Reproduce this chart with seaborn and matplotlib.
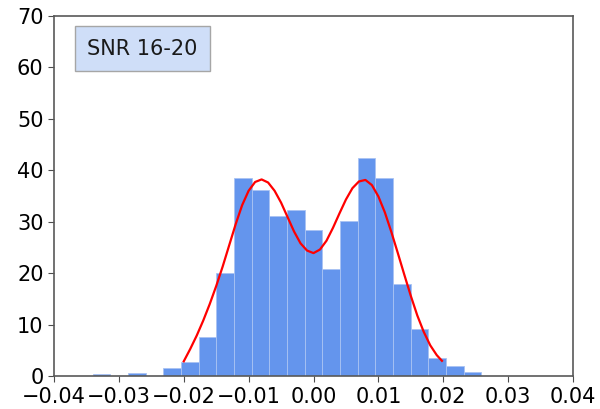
import numpy as np
import pandas as pd
import matplotlib
matplotlib.use("Agg")
import matplotlib.pyplot as plt
import seaborn as sns

# Histogram of residuals (density), 22 equal-width bins
bin_start = -0.03405
bin_stop = 0.02585
bin_heights = [0.37, 0.0, 0.73, 0.0, 1.7, 2.8, 7.6, 20.1, 38.5, 36.2, 31.1,
               32.2, 28.4, 20.9, 30.2, 42.3, 38.5, 18.0, 9.2, 3.6, 1.9, 0.8]

# Fitted density curve
curve_x = [-0.020, -0.019, -0.018, -0.017, -0.016, -0.015, -0.014, -0.013,
           -0.012, -0.011, -0.010, -0.009, -0.008, -0.007, -0.006, -0.005,
           -0.004, -0.003, -0.002, -0.001, 0.000, 0.001, 0.002, 0.003,
           0.004, 0.005, 0.006, 0.007, 0.008, 0.009, 0.010, 0.011, 0.012,
           0.013, 0.014, 0.015, 0.016, 0.017, 0.018, 0.019, 0.0198]
curve_y = [2.9, 5.3, 7.9, 10.8, 14.0, 17.5, 21.3, 25.4, 29.5, 33.2, 36.0,
           37.7, 38.2, 37.6, 36.0, 33.7, 30.9, 28.1, 25.8, 24.4, 23.9, 24.6,
           26.3, 28.8, 31.6, 34.3, 36.5, 37.8, 38.1, 37.1, 34.9, 31.8, 28.0,
           23.9, 19.7, 15.6, 11.8, 8.6, 6.0, 4.1, 3.0]

label = "SNR 16-20"
x_ticks = [-0.04, -0.03, -0.02, -0.01, 0.00, 0.01, 0.02, 0.03, 0.04]
y_ticks = [0, 10, 20, 30, 40, 50, 60, 70]

n_bins = len(bin_heights)
edges = np.linspace(bin_start, bin_stop, n_bins + 1)
hist_df = pd.DataFrame({
    "center": (edges[:-1] + edges[1:]) / 2,
    "height": bin_heights,
})
curve_df = pd.DataFrame({"x": curve_x, "y": curve_y})

fig, ax = plt.subplots(figsize=(6.0, 4.09), dpi=100)
fig.subplots_adjust(left=0.09, right=0.955, top=0.962, bottom=0.08)

sns.histplot(data=hist_df, x="center", weights="height", bins=n_bins,
             binrange=(bin_start, bin_stop), stat="count",
             color="cornflowerblue", alpha=1.0,
             edgecolor="#a9c3f3", linewidth=0.6, ax=ax)
sns.lineplot(data=curve_df, x="x", y="y", color="red", linewidth=1.6,
             ax=ax, sort=False)

ax.set_xlim(-0.04, 0.04)
ax.set_ylim(0, 70)
ax.set_xticks(x_ticks)
ax.set_xticklabels([f"{t:.2f}".replace("-", "\u2212") for t in x_ticks])
ax.set_yticks(y_ticks)
ax.tick_params(labelsize=15, length=4, color="0.3")
ax.set_xlabel("")
ax.set_ylabel("")
for s in ax.spines.values():
    s.set_color("0.35")
    s.set_linewidth(1.2)

ax.text(0.0645, 0.908, label, transform=ax.transAxes, fontsize=15,
        va="center", ha="left", color="0.1",
        bbox=dict(boxstyle="square,pad=0.6", facecolor="#cfdef8",
                  edgecolor="0.65", linewidth=1.0))

fig.savefig("out.png", dpi=100)
